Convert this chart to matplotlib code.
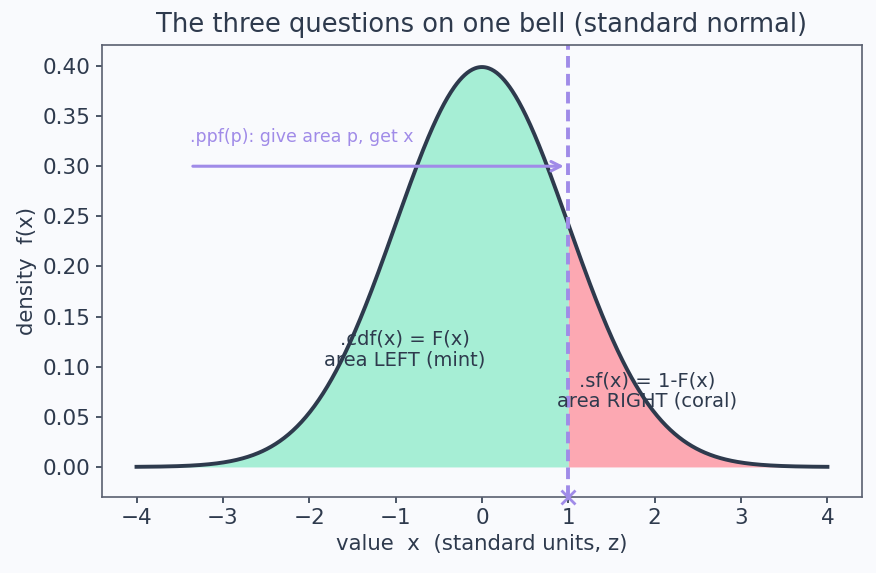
import matplotlib
matplotlib.use("Agg")
import matplotlib.pyplot as plt
import numpy as np

# standard normal, cut at x = 1
mu = 0.0
sigma = 1.0
x_cut = 1.0
x_lo, x_hi = -4.0, 4.0
arrow_start = -3.38
arrow_y = 0.30

title = "The three questions on one bell (standard normal)"
ppf_label = ".ppf(p): give area p, get x"
cdf_label = ".cdf(x) = F(x)\narea LEFT (mint)"
sf_label = ".sf(x) = 1-F(x)\narea RIGHT (coral)"

BG = "#f9fafd"
INK = "#2e3a4d"
MINT = "#a6eed5"
CORAL = "#fca8b2"
PURPLE = "#a08be8"

plt.rcParams["figure.facecolor"] = BG
plt.rcParams["axes.facecolor"] = BG
plt.rcParams["text.color"] = INK
plt.rcParams["axes.labelcolor"] = INK
plt.rcParams["xtick.color"] = INK
plt.rcParams["ytick.color"] = INK
plt.rcParams["axes.edgecolor"] = "#5a6070"
plt.rcParams["xtick.major.size"] = 4.5
plt.rcParams["ytick.major.size"] = 4.5
plt.rcParams["xtick.major.width"] = 1.2
plt.rcParams["ytick.major.width"] = 1.2
plt.rcParams["axes.linewidth"] = 1.2

x = np.linspace(x_lo, x_hi, 801)
pdf = np.exp(-0.5 * ((x - mu) / sigma) ** 2) / (sigma * np.sqrt(2 * np.pi))

fig = plt.figure(figsize=(8.76, 5.73), dpi=100)
ax = fig.add_axes([0.1164, 0.1326, 0.8676, 0.789])

left = x <= x_cut
right = x >= x_cut
ax.fill_between(x[left], 0, pdf[left], color=MINT, lw=0)
ax.fill_between(x[right], 0, pdf[right], color=CORAL, lw=0)
ax.plot(x, pdf, color=INK, lw=2.8)

ax.axvline(x_cut, color=PURPLE, lw=2.8, ls=(0, (3, 1.6)))
ax.plot([x_cut], [-0.03], marker="x", color=PURPLE, ms=10, mew=2, clip_on=False, zorder=5)

ax.annotate("", xy=(x_cut - 0.02, arrow_y), xytext=(arrow_start, arrow_y),
            arrowprops=dict(arrowstyle="->", color=PURPLE, lw=2.2, mutation_scale=17))
ax.text(arrow_start, arrow_y + 0.02, ppf_label, color=PURPLE, fontsize=12.5, va="bottom", ha="left")

ax.text(-0.89, 0.117, cdf_label, fontsize=14, ha="center", va="center", linespacing=1.1)
ax.text(1.91, 0.076, sf_label, fontsize=14, ha="center", va="center", linespacing=1.1)

ax.set_xlim(-4.4, 4.4)
ax.set_ylim(-0.03, 0.421)
ax.set_xticks(np.arange(-4, 5, 1))
ax.set_yticks(np.arange(0, 0.41, 0.05))
ax.yaxis.set_major_formatter(matplotlib.ticker.FormatStrFormatter("%.2f"))
ax.tick_params(labelsize=15.5)
ax.set_xlabel("value  x  (standard units, z)", fontsize=15.3)
ax.set_ylabel("density  f(x)", fontsize=15.3)
ax.set_title(title, fontsize=18.5, pad=9)

fig.savefig("out.png", dpi=100, facecolor=BG)
